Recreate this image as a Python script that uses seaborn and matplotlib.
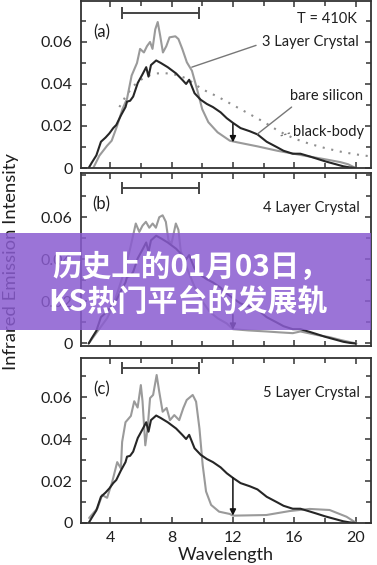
import matplotlib
matplotlib.use("Agg")
import matplotlib.pyplot as plt
from matplotlib.ticker import MultipleLocator
import seaborn as sns
import pandas as pd

# bare silicon emission (same curve in every panel)
bare_x = [2.6, 2.8, 3.1, 3.4, 3.7, 3.95, 4.2, 4.4, 4.7, 5.0, 5.1, 5.3, 5.5, 5.8, 6.1, 6.35,
          6.5, 6.66, 7.0, 7.3, 7.75, 8.3, 8.7, 8.95, 9.15, 9.5, 9.9, 10.3, 10.7, 11.2, 11.6,
          12.0, 12.5, 13.1, 13.6, 14.2, 14.9, 15.3, 15.9, 16.4, 17.0, 17.4, 18.0, 18.6, 19.2,
          19.6, 20.0]
bare_y = [0.0, 0.0025, 0.006, 0.0125, 0.0145, 0.0165, 0.019, 0.0205, 0.025, 0.029, 0.0316,
          0.032, 0.034, 0.0405, 0.0445, 0.048, 0.0435, 0.049, 0.0512, 0.050, 0.048, 0.045,
          0.042, 0.040, 0.042, 0.0356, 0.0325, 0.0305, 0.029, 0.0265, 0.0237, 0.0215, 0.019,
          0.0175, 0.016, 0.0125, 0.0098, 0.0082, 0.0068, 0.0068, 0.0055, 0.0046, 0.0032,
          0.002, 0.0008, 0.0003, 0.0]

# black-body reference (panel a only)
bb_x = [4.6, 5.0, 5.5, 6.0, 6.5, 7.0, 7.5, 8.0, 8.5, 9.0, 9.5, 10.0, 11.0, 12.0, 13.0,
        14.0, 15.0, 16.0, 17.0, 18.0, 19.0, 20.0, 21.0]
bb_y = [0.029, 0.034, 0.039, 0.042, 0.044, 0.045, 0.0452, 0.0448, 0.044, 0.0425, 0.040,
        0.0375, 0.034, 0.030, 0.026, 0.022, 0.0175, 0.014, 0.0115, 0.0095, 0.0078, 0.0065, 0.0055]

# photonic crystal emission
c3_x = [2.9, 3.3, 3.8, 4.1, 4.45, 4.8, 5.1, 5.4, 5.75, 5.95, 6.2, 6.4, 6.6, 6.76, 6.94, 7.1,
        7.26, 7.44, 7.66, 7.87, 8.25, 8.45, 8.7, 9.0, 9.33, 9.66, 10.0, 10.4, 11.0, 11.8, 12.3,
        13.6, 14.9, 16.4, 17.9, 19.0, 19.5, 20.0]
c3_y = [0.0, 0.0059, 0.0106, 0.013, 0.020, 0.028, 0.033, 0.044, 0.050, 0.0567, 0.055, 0.058,
        0.060, 0.0567, 0.066, 0.0695, 0.063, 0.055, 0.058, 0.0622, 0.0627, 0.0614, 0.0567,
        0.0503, 0.0463, 0.0376, 0.028, 0.0218, 0.017, 0.013, 0.0122, 0.0103, 0.0082, 0.0062,
        0.0043, 0.0028, 0.0018, 0.0]

c4_x = [2.6, 3.0, 3.4, 3.8, 4.2, 4.6, 5.0, 5.3, 5.67, 5.9, 6.11, 6.33, 6.55, 6.77, 6.98, 7.2,
        7.42, 7.63, 7.8, 8.0, 8.28, 8.45, 8.6, 8.8, 9.1, 9.5, 10.0, 10.5, 11.0, 11.6, 12.0,
        13.0, 14.2, 15.0, 15.9, 16.4, 17.5, 18.3, 19.0, 19.6, 20.05]
c4_y = [0.0, 0.004, 0.008, 0.012, 0.018, 0.027, 0.036, 0.045, 0.057, 0.053, 0.056, 0.0578,
        0.055, 0.057, 0.055, 0.060, 0.0609, 0.0578, 0.049, 0.0475, 0.057, 0.054, 0.044, 0.040,
        0.034, 0.027, 0.020, 0.015, 0.012, 0.0095, 0.0068, 0.0062, 0.0057, 0.0053, 0.0049,
        0.0057, 0.004, 0.003, 0.0017, 0.0007, 0.0]

c5_x = [2.63, 3.17, 3.48, 3.8, 4.13, 4.46, 4.7, 4.78, 5.0, 5.35, 5.57, 5.79, 6.0, 6.11, 6.29,
        6.44, 6.6, 6.8, 7.03, 7.2, 7.42, 7.68, 7.9, 8.18, 8.5, 8.77, 8.99, 9.38, 9.6, 9.82,
        10.03, 10.25, 10.58, 11.1, 11.8, 12.0, 14.18, 15.7, 17.0, 18.3, 19.4, 20.05]
c5_y = [0.0024, 0.007, 0.0133, 0.012, 0.0195, 0.029, 0.026, 0.0386, 0.048, 0.051, 0.058,
        0.055, 0.0657, 0.058, 0.037, 0.045, 0.0595, 0.061, 0.0705, 0.0625, 0.053, 0.0548,
        0.049, 0.0514, 0.049, 0.0548, 0.0586, 0.061, 0.0578, 0.045, 0.0276, 0.015, 0.0086,
        0.0054, 0.0043, 0.0035, 0.0038, 0.0057, 0.0067, 0.0062, 0.003, 0.0]

panel_tags = ["(a)", "(b)", "(c)"]
crystal_names = ["3 Layer Crystal", "4 Layer Crystal", "5 Layer Crystal"]
arrow_top = [0.0210, 0.0137, 0.0215]
arrow_bottom = [0.0122, 0.0065, 0.0035]
band_lo, band_hi = 4.8, 9.8

sns.set_style("ticks")
plt.rcParams["font.family"] = ["Lato", "DejaVu Sans"]
plt.rcParams["xtick.direction"] = "in"
plt.rcParams["ytick.direction"] = "in"

fig = plt.figure(figsize=(3.77, 5.65), dpi=100)
W, H = 377.0, 565.0
# (top px, bottom px, ylim)
boxes = [(1, 168, (0.0, 0.0795)), (173, 346, (-0.0012, 0.081)), (358, 523, (0.0, 0.0786))]

crystals = [(c3_x, c3_y), (c4_x, c4_y), (c5_x, c5_y)]
edge = "#333333"
txt = "#1e1e1e"

for i, (top, bot, ylim) in enumerate(boxes):
    ax = fig.add_axes([81 / W, 1 - bot / H, 290 / W, (bot - top) / H])
    bare = pd.DataFrame({"x": bare_x, "y": bare_y})
    cx, cy = crystals[i]
    cr = pd.DataFrame({"x": cx, "y": cy})
    if i == 0:
        bb = pd.DataFrame({"x": bb_x, "y": bb_y})
        sns.lineplot(data=bb, x="x", y="y", ax=ax, color="#8f8f8f", lw=1.5,
                     linestyle=(0, (1, 3.2)), sort=False)
    sns.lineplot(data=cr, x="x", y="y", ax=ax, color="#9a9a9a", lw=1.5, sort=False)
    sns.lineplot(data=bare, x="x", y="y", ax=ax, color="#262626", lw=1.5, sort=False)

    ax.set_xlim(2.1, 21)
    ax.set_ylim(*ylim)
    ax.xaxis.set_major_locator(MultipleLocator(4))
    ax.xaxis.set_minor_locator(MultipleLocator(2))
    ax.set_yticks([0, 0.02, 0.04, 0.06], ["0", "0.02", "0.04", "0.06"])
    ax.yaxis.set_minor_locator(MultipleLocator(0.01))
    ax.tick_params(which="both", top=True, right=True, color=edge, width=1.1)
    ax.tick_params(which="major", length=4.5, labelsize=11.5, pad=6, labelcolor=txt)
    ax.tick_params(which="minor", length=3.5)
    for s in ax.spines.values():
        s.set_color(edge)
        s.set_linewidth(1.3)
    ax.set_xlabel("")
    ax.set_ylabel("")
    if i < 2:
        ax.set_xticklabels([])

    # spectral band bracket
    ax.errorbar([(band_lo + band_hi) / 2], [0.0738], xerr=[(band_hi - band_lo) / 2],
                fmt="none", ecolor="#444444", elinewidth=1.4, capsize=4.5, capthick=1.4)
    # emission drop arrow at 12 um
    ax.annotate("", xy=(12, arrow_bottom[i]), xytext=(12, arrow_top[i]),
                arrowprops=dict(arrowstyle="-|>", color="#111111", lw=1.1,
                                mutation_scale=9, shrinkA=0, shrinkB=0))
    ax.text(3.45, ylim[1] - 0.0148, panel_tags[i], ha="center", va="center",
            fontsize=12, color=txt)

    if i == 0:
        ax.text(20.05, 0.071, "T = 410K", ha="right", va="center", fontsize=10.5,
                color=txt)
        ax.annotate(crystal_names[i], xy=(9.32, 0.048), xytext=(20.2, 0.060),
                    ha="right", va="center", fontsize=10.5, color=txt,
                    arrowprops=dict(arrowstyle="-", color="#777777", lw=1.0,
                                    relpos=(0, 0.4), shrinkA=2, shrinkB=0))
        ax.annotate("bare silicon", xy=(13.6, 0.0162), xytext=(20.45, 0.0343),
                    ha="right", va="center", fontsize=10.5, color=txt,
                    arrowprops=dict(arrowstyle="-", color="#777777", lw=1.0,
                                    relpos=(0.1, 0), shrinkA=1, shrinkB=0))
        ax.annotate("black-body", xy=(15.1, 0.0153), xytext=(15.9, 0.0171),
                    ha="left", va="center", fontsize=10.5, color=txt,
                    arrowprops=dict(arrowstyle="-", color="#777777", lw=1.0,
                                    linestyle=":", relpos=(0, 0.5), shrinkA=0, shrinkB=0))
    else:
        ax.text(20.25, ylim[1] - 0.0165, crystal_names[i], ha="right", va="center",
                fontsize=10.5, color=txt)
    if i == 2:
        ax.set_xlabel("Wavelength", fontsize=13, labelpad=1, color=txt)

fig.text(11 / W, 1 - 262 / H, "Infrared Emission Intensity", rotation=90,
         ha="center", va="center", fontsize=13.3, color=txt)

# overlay banner
banner = plt.Rectangle((0, 1 - 330 / H), 371 / W, 97 / H, transform=fig.transFigure,
                       facecolor="#8a5cd0", edgecolor="none", alpha=0.85, zorder=5)
fig.patches.append(banner)
cjk = ["Noto Sans CJK SC", "DejaVu Sans"]
fig.text(191 / W, 1 - 267 / H, "历史上的01月03日，", ha="center", va="center",
         fontsize=21.3, fontweight="bold", color="white", family=cjk, zorder=6)
fig.text(188 / W, 1 - 302 / H, "KS热门平台的发展轨", ha="center", va="center",
         fontsize=21.6, fontweight="bold", color="white", family=cjk, zorder=6)

fig.savefig("out.png", dpi=100)
